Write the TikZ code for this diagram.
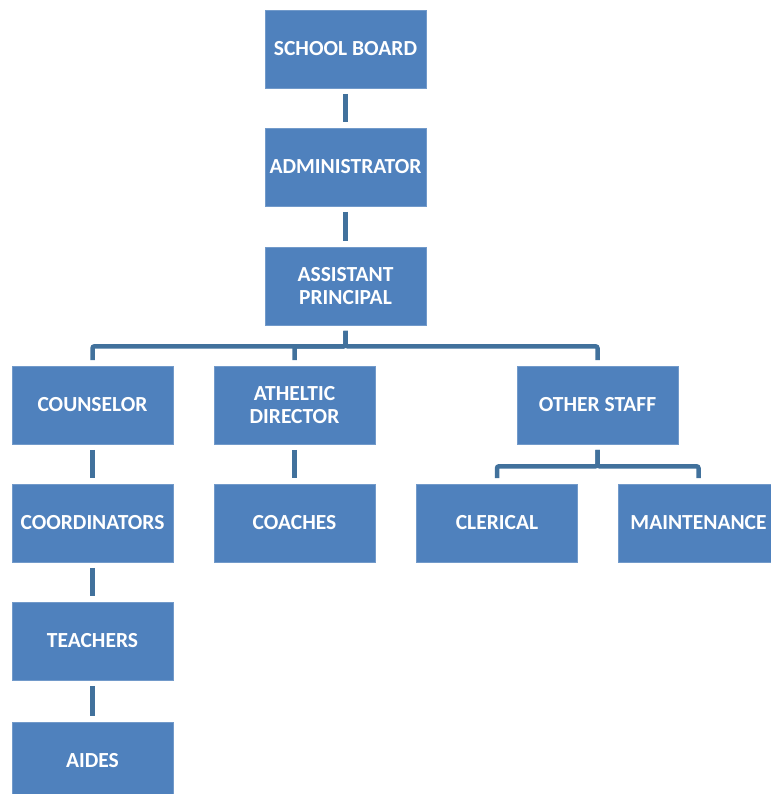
\documentclass[tikz,border=0pt]{standalone}
\usepackage{fontspec}
\setmainfont{Carlito}
\usetikzlibrary{calc}
\definecolor{boxblue}{HTML}{4F81BD}
\definecolor{linkblue}{HTML}{41719C}

\begin{document}
\begin{tikzpicture}[x=1pt,y=-1pt,
  unit/.style={fill=boxblue,draw=boxblue!80!white,line width=0.6pt,minimum width=161pt,minimum height=78pt,
    inner sep=0pt,text=white,align=center,font=\fontsize{21.5}{23.5}\selectfont\bfseries},
  link/.style={draw=linkblue,line width=4.5pt,rounded corners=2pt,shorten <=5.5pt,shorten >=5.5pt}]

\useasboundingbox (0,0) rectangle (770,794);

% top line of command
\node[unit] (sb) at (345.5,49) {SCHOOL BOARD};
\node[unit] (ad) at (345.5,167) {ADMINISTRATOR};
\node[unit] (ap) at (345.5,286) {ASSISTANT\\PRINCIPAL};

% second row
\node[unit] (cn) at (92.5,405) {COUNSELOR};
\node[unit] (at) at (294.5,405) {ATHELTIC\\DIRECTOR};
\node[unit] (os) at (597.5,405) {OTHER STAFF};

% third row
\node[unit] (co) at (92.5,523) {COORDINATORS};
\node[unit] (ch) at (294.5,523) {COACHES};
\node[unit] (cl) at (497,523) {CLERICAL};
\node[unit] (mt) at (698.5,523) {MAINTENANCE};

\node[unit] (te) at (92.5,641) {TEACHERS};
\node[unit] (ai) at (92.5,761) {AIDES};

\draw[link] (sb.south) -- (ad.north);
\draw[link] (ad.south) -- (ap.north);
\draw[link] (ap.south) -- ++(0,21) -| (cn.north);
\draw[link] (ap.south) -- ++(0,21) -| (at.north);
\draw[link] (ap.south) -- ++(0,21) -| (os.north);
\draw[link] (cn.south) -- (co.north);
\draw[link] (co.south) -- (te.north);
\draw[link] (te.south) -- (ai.north);
\draw[link] (at.south) -- (ch.north);
\draw[link] (os.south) -- ++(0,22) -| (cl.north);
\draw[link] (os.south) -- ++(0,22) -| (mt.north);

\end{tikzpicture}
\end{document}
